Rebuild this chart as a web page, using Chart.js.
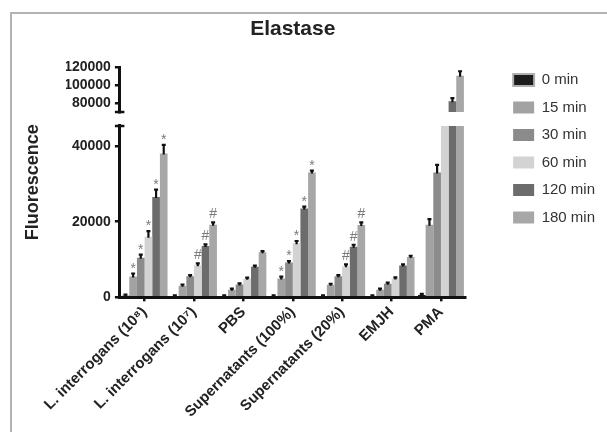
<!DOCTYPE html>
<html>
<head>
<meta charset="utf-8">
<script src="https://cdn.jsdelivr.net/npm/chart.js@4.4.0/dist/chart.umd.min.js"></script>
<style>
html, body { margin: 0; padding: 0; background: #ffffff; }
#wrap { position: relative; width: 607px; height: 432px; overflow: hidden; }
#frame { position: absolute; left: 10px; top: 12px; right: -5px; bottom: -5px; border-top: 2px solid #b2b2b2; border-left: 2px solid #b2b2b2; pointer-events: none; }
</style>
</head>
<body>
<div id="wrap"><canvas id="c" width="607" height="432"></canvas><div id="frame"></div></div>
<script>
// ---- data ----
const categories = ['L. interrogans (10\u2078)', 'L. interrogans (10\u2077)', 'PBS', 'Supernatants (100%)', 'Supernatants (20%)', 'EMJH', 'PMA'];
const seriesNames = ['0 min', '15 min', '30 min', '60 min', '120 min', '180 min'];

const min0   = [400, 300, 300, 300, 300, 300, 600];
const min15  = [5500, 3100, 2000, 5000, 3300, 2000, 19200];
const min30  = [10500, 5600, 3400, 9200, 5600, 3600, 33000];
const min60  = [16000, 8500, 4900, 14300, 8200, 5000, 58000];
const min120 = [26500, 13600, 8100, 23500, 13400, 8400, 82000];
const min180 = [38000, 19200, 11900, 33000, 19100, 10700, 110500];

const err0   = [300, 200, 200, 200, 200, 200, 300];
const err15  = [800, 300, 300, 500, 300, 300, 1500];
const err30  = [800, 300, 300, 400, 300, 300, 2000];
const err60  = [1500, 500, 300, 600, 500, 300, 0];
const err120 = [2000, 400, 300, 500, 500, 300, 3500];
const err180 = [2300, 600, 300, 500, 700, 300, 5000];

const sig0   = ['', '', '', '', '', '', ''];
const sig15  = ['*', '', '', '*', '', '', ''];
const sig30  = ['*', '', '', '*', '', '', ''];
const sig60  = ['*', '#', '', '*', '#', '', ''];
const sig120 = ['*', '#', '', '*', '#', '', ''];
const sig180 = ['*', '#', '', '*', '#', '', ''];

const lowerTicks = [0, 20000, 40000];
const upperTicks = [80000, 100000, 120000];
const lowerRange = [0, 45300];
const upperRange = [70000, 120000];

// ---- styles ----
const colors = ['#1c1c1c', '#a2a2a2', '#8b8b8b', '#d3d3d3', '#6c6c6c', '#a7a7a7'];
const FONT = "'Liberation Sans', Arial, sans-serif";
Chart.defaults.font.family = FONT;

const values = [min0, min15, min30, min60, min120, min180];
const errs = [err0, err15, err30, err60, err120, err180];
const sigs = [sig0, sig15, sig30, sig60, sig120, sig180];

const datasets = [];
['yLow', 'yHigh'].forEach(axis => {
  seriesNames.forEach((name, i) => {
    datasets.push({
      label: name,
      data: values[i],
      errors: errs[i],
      marks: sigs[i],
      backgroundColor: colors[i],
      borderWidth: 0,
      yAxisID: axis,
      stack: 's' + i,
      categoryPercentage: 0.93,
      barPercentage: 1.0
    });
  });
});

const segmentPlugin = {
  id: 'segmentPlugin',
  beforeDatasetDraw(chart, args) {
    const s = chart.scales[args.meta.yAxisID];
    const a = chart.chartArea;
    const ctx = chart.ctx;
    ctx.save();
    ctx.beginPath();
    ctx.rect(a.left, s.top, a.right - a.left, s.bottom - s.top);
    ctx.clip();
  },
  afterDatasetDraw(chart, args) {
    const ctx = chart.ctx;
    const ds = chart.data.datasets[args.index];
    const s = chart.scales[args.meta.yAxisID];
    args.meta.data.forEach((bar, j) => {
      const v = ds.data[j], e = ds.errors[j];
      const yv = s.getPixelForValue(v);
      const yt = s.getPixelForValue(v + e);
      ctx.strokeStyle = '#111';
      ctx.lineWidth = 2.2;
      ctx.beginPath();
      ctx.moveTo(bar.x, yv + 1);
      ctx.lineTo(bar.x, yt);
      ctx.moveTo(bar.x - 2, yt);
      ctx.lineTo(bar.x + 2, yt);
      ctx.stroke();
      const m = ds.marks[j];
      if (m) {
        ctx.fillStyle = '#7a7a7a';
        ctx.font = '14px ' + FONT;
        ctx.textAlign = 'center';
        ctx.textBaseline = 'alphabetic';
        ctx.fillText(m, bar.x, yt - (m === '*' ? 1 : 4));
      }
    });
    ctx.restore();
  }
};

const decorPlugin = {
  id: 'decorPlugin',
  afterDraw(chart) {
    const ctx = chart.ctx;
    const a = chart.chartArea;
    const lo = chart.scales.yLow, hi = chart.scales.yHigh;
    const x = a.left;
    ctx.save();
    ctx.strokeStyle = '#111';
    ctx.lineWidth = 2.5;
    ctx.beginPath();
    ctx.moveTo(x - 5, lo.top); ctx.lineTo(x + 4.5, lo.top);
    ctx.moveTo(x - 5, hi.bottom); ctx.lineTo(x + 4.5, hi.bottom);
    ctx.stroke();
    // y axis title
    ctx.translate(33, (a.top + a.bottom) / 2);
    ctx.rotate(-Math.PI / 2);
    ctx.font = 'bold 18px ' + FONT;
    ctx.fillStyle = '#222';
    ctx.textAlign = 'center';
    ctx.textBaseline = 'middle';
    ctx.fillText('Fluorescence', 0, 0);
    ctx.restore();
  }
};

const yCommon = {
  type: 'linear',
  position: 'left',
  stack: 'y',
  stacked: false,
  z: 1,
  border: { display: true, color: '#111', width: 3 },
  grid: { drawOnChartArea: false, tickLength: 5, color: '#111', lineWidth: 2.5 },
  ticks: { font: { size: 14, weight: 'bold' }, color: '#222', padding: 4, callback: v => String(v) }
};

new Chart(document.getElementById('c'), {
  type: 'bar',
  data: { labels: categories, datasets: datasets },
  options: {
    responsive: false,
    animation: false,
    layout: { padding: { left: 66, right: 2, top: 0, bottom: 9 } },
    scales: {
      x: {
        type: 'category',
        z: 1,
        border: { display: true, color: '#111', width: 3 },
        grid: { drawOnChartArea: false, offset: false, tickLength: 4, color: '#111', lineWidth: 2.5 },
        ticks: { font: { size: 15, weight: 'bold' }, color: '#222', maxRotation: 45, minRotation: 45, padding: 2 }
      },
      yLow: Object.assign({}, yCommon, {
        min: lowerRange[0], max: lowerRange[1], stackWeight: 172,
        afterBuildTicks: s => { s.ticks = lowerTicks.map(v => ({ value: v })); }
      }),
      yGap: {
        type: 'linear', position: 'left', stack: 'y', stackWeight: 14, display: true,
        grid: { display: false }, border: { display: false }, ticks: { display: false }
      },
      yHigh: Object.assign({}, yCommon, {
        min: upperRange[0], max: upperRange[1], stackWeight: 45,
        afterBuildTicks: s => { s.ticks = upperTicks.map(v => ({ value: v })); }
      }),
      spacer: {
        type: 'linear', position: 'right', display: true,
        grid: { display: false }, border: { display: false }, ticks: { display: false },
        afterFit: s => { s.width = 35; }
      }
    },
    plugins: {
      tooltip: { enabled: false },
      title: {
        display: true, text: 'Elastase', fullSize: false, color: '#222',
        font: { size: 21, weight: 'bold' }, padding: { top: 17, bottom: 25 }
      },
      legend: {
        position: 'right', align: 'start', fullSize: true, maxWidth: 200,
        title: { display: true, text: ' ', font: { size: 10 }, padding: { top: 48, bottom: 0 } },
        labels: {
          boxWidth: 21, boxHeight: 12, padding: 12.5, color: '#333', font: { size: 15 },
          filter: item => item.datasetIndex < 6,
          generateLabels: chart => {
            const items = Chart.defaults.plugins.legend.labels.generateLabels(chart);
            items.forEach(it => { it.lineWidth = it.datasetIndex === 0 ? 2 : 0; it.strokeStyle = '#b0b0b0'; });
            return items;
          }
        }
      }
    }
  },
  plugins: [segmentPlugin, decorPlugin]
});
</script>
</body>
</html>
